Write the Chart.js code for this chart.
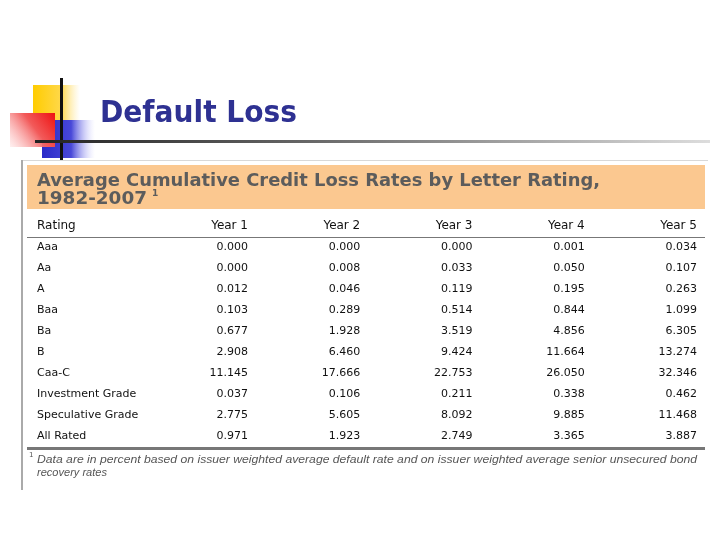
<!DOCTYPE html>
<html>
<head>
<meta charset="utf-8">
<script src="https://cdn.jsdelivr.net/npm/chart.js@4"></script>
<style>
  body { margin: 0; background: #fff; }
  #wrap { width: 720px; height: 540px; }
</style>
</head>
<body>
<div id="wrap"><canvas id="lossTable" width="720" height="540"></canvas></div>
<script>
// Table data (percent)
const ratings = ['Aaa', 'Aa', 'A', 'Baa', 'Ba', 'B', 'Caa-C', 'Investment Grade', 'Speculative Grade', 'All Rated'];
const years = ['Year 1', 'Year 2', 'Year 3', 'Year 4', 'Year 5'];
const year1 = [0.000, 0.000, 0.012, 0.103, 0.677, 2.908, 11.145, 0.037, 2.775, 0.971];
const year2 = [0.000, 0.008, 0.046, 0.289, 1.928, 6.460, 17.666, 0.106, 5.605, 1.923];
const year3 = [0.000, 0.033, 0.119, 0.514, 3.519, 9.424, 22.753, 0.211, 8.092, 2.749];
const year4 = [0.001, 0.050, 0.195, 0.844, 4.856, 11.664, 26.050, 0.338, 9.885, 3.365];
const year5 = [0.034, 0.107, 0.263, 1.099, 6.305, 13.274, 32.346, 0.462, 11.468, 3.887];

const slideTitle = 'Default Loss';
const tableTitle = ['Average Cumulative Credit Loss Rates by Letter Rating,', '1982-2007'];
const footnote = ['Data are in percent based on issuer weighted average default rate and on issuer weighted average senior unsecured bond', 'recovery rates'];

const yearValues = [year1, year2, year3, year4, year5];

// one invisible point per cell, the plugin writes the value there
const datasets = years.map(function(year, i) {
    return {
        label: year,
        data: ratings.map(function(r, j) {
            return { x: year, y: r, v: yearValues[i][j] };
        }),
        pointRadius: 0,
        showLine: false
    };
});

// draw text stretched/squeezed horizontally to a given width
function fitText(ctx, text, x, y, width) {
    const w = ctx.measureText(text).width;
    ctx.save();
    ctx.translate(x, y);
    ctx.scale(width / w, 1);
    ctx.fillText(text, 0, 0);
    ctx.restore();
}

const slidePlugin = {
    id: 'slide',
    beforeDraw: function(chart) {
        const ctx = chart.ctx;
        ctx.save();
        ctx.fillStyle = '#ffffff';
        ctx.fillRect(0, 0, chart.width, chart.height);

        // decorative squares
        let g = ctx.createLinearGradient(33, 0, 80, 0);
        g.addColorStop(0, '#ffcc00');
        g.addColorStop(0.6, '#ffd84a');
        g.addColorStop(1, 'rgba(255,230,150,0)');
        ctx.fillStyle = g;
        ctx.fillRect(33, 85, 47, 36);

        g = ctx.createLinearGradient(42, 0, 95, 0);
        g.addColorStop(0, '#2a2ac8');
        g.addColorStop(0.55, '#4848d8');
        g.addColorStop(1, 'rgba(200,200,255,0)');
        ctx.fillStyle = g;
        ctx.fillRect(42, 120, 53, 38);

        g = ctx.createLinearGradient(55, 113, 10, 147);
        g.addColorStop(0, '#ee1111');
        g.addColorStop(0.45, '#f25a5a');
        g.addColorStop(1, 'rgba(255,225,225,0.5)');
        ctx.fillStyle = g;
        ctx.fillRect(10, 113, 45, 34);

        // lines
        ctx.fillStyle = '#111111';
        ctx.fillRect(60, 78, 3, 82);
        g = ctx.createLinearGradient(35, 0, 710, 0);
        g.addColorStop(0, '#222222');
        g.addColorStop(0.4, '#666666');
        g.addColorStop(1, '#dddddd');
        ctx.fillStyle = g;
        ctx.fillRect(35, 140, 675, 3);

        // slide title
        ctx.fillStyle = '#2e3192';
        ctx.font = 'bold 30px "DejaVu Sans", Verdana, sans-serif';
        ctx.textBaseline = 'alphabetic';
        fitText(ctx, slideTitle, 100, 122, 197);

        // table frame
        ctx.fillStyle = '#aaaaaa';
        ctx.fillRect(21, 160, 2, 330);
        ctx.fillStyle = '#d8d8d8';
        ctx.fillRect(23, 160, 685, 1);
        ctx.fillStyle = '#fbc890';
        ctx.fillRect(27, 165, 678, 44);

        ctx.fillStyle = '#5c5c5c';
        ctx.font = 'bold 17px "DejaVu Sans", Verdana, sans-serif';
        fitText(ctx, tableTitle[0], 37, 186, 563);
        fitText(ctx, tableTitle[1], 37, 204, 110);
        ctx.font = 'bold 9px "DejaVu Sans", Verdana, sans-serif';
        ctx.fillText('1', 152, 196);
        ctx.restore();
    },
    afterDatasetsDraw: function(chart) {
        const ctx = chart.ctx;
        const area = chart.chartArea;
        const xs = chart.scales.x;
        const ys = chart.scales.y;
        const half = xs.width / years.length / 2;
        ctx.save();
        ctx.textBaseline = 'middle';

        // header row
        ctx.fillStyle = '#111111';
        ctx.font = '12px "DejaVu Sans", Verdana, sans-serif';
        ctx.textAlign = 'left';
        ctx.fillText('Rating', 37, 226);
        ctx.textAlign = 'right';
        years.forEach(function(y, i) {
            ctx.fillText(y, xs.getPixelForValue(i) + half, 226);
        });

        // row labels
        ctx.font = '11px "DejaVu Sans", Verdana, sans-serif';
        ctx.textAlign = 'left';
        ratings.forEach(function(r, j) {
            ctx.fillText(r, 37, ys.getPixelForValue(j));
        });

        // cell values
        ctx.textAlign = 'right';
        chart.data.datasets.forEach(function(ds, i) {
            const meta = chart.getDatasetMeta(i);
            meta.data.forEach(function(pt, j) {
                ctx.fillText(ds.data[j].v.toFixed(3), pt.x + half, pt.y);
            });
        });

        // rules
        ctx.fillStyle = '#777777';
        ctx.fillRect(27, Math.round(area.top), 678, 1);
        ctx.fillRect(27, Math.round(area.bottom), 678, 3);

        // footnote
        ctx.textAlign = 'left';
        ctx.fillStyle = '#555555';
        ctx.font = '7px "DejaVu Sans", sans-serif';
        ctx.fillText('1', 29, area.bottom + 9);
        ctx.font = 'italic 11px "Liberation Sans", Arial, sans-serif';
        fitText(ctx, footnote[0], 37, area.bottom + 13, 660);
        fitText(ctx, footnote[1], 37, area.bottom + 26, 70);
        ctx.restore();
    }
};

const ctx = document.getElementById('lossTable').getContext('2d');
new Chart(ctx, {
    type: 'scatter',
    data: { datasets: datasets },
    options: {
        responsive: false,
        animation: false,
        devicePixelRatio: 1,
        layout: {
            padding: { left: 135.75, right: 23, top: 236.5, bottom: 93.5 }
        },
        scales: {
            x: { type: 'category', labels: years, offset: true, display: false },
            y: { type: 'category', labels: ratings, offset: true, display: false }
        },
        plugins: {
            legend: { display: false },
            tooltip: { enabled: false }
        }
    },
    plugins: [slidePlugin]
});
</script>
</body>
</html>
